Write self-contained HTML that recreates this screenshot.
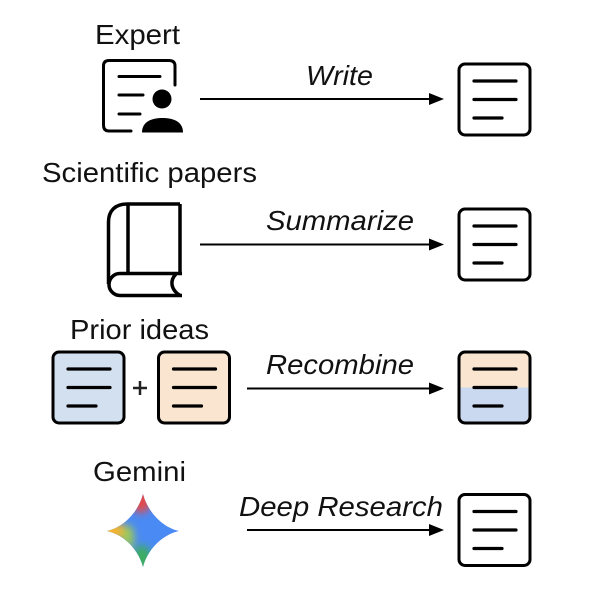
<!DOCTYPE html>
<html><head><meta charset="utf-8"><style>
html,body{margin:0;padding:0;background:#fff;width:608px;height:600px;overflow:hidden}
svg{display:block;filter:blur(0.35px)}
text{font-family:"Liberation Sans",sans-serif;font-size:28px;fill:#111}
.i{font-style:italic}
</style></head><body>
<svg width="608" height="600" viewBox="0 0 608 600" xmlns="http://www.w3.org/2000/svg">
<defs>
<clipPath id="star"><path d="M143 494C147 510 161 527 179 531C161 535 147 551 143 567C139 551 125 535 107 531C125 527 139 510 143 494Z"/></clipPath>
<filter id="b1" x="-50%" y="-50%" width="200%" height="200%"><feGaussianBlur stdDeviation="4"/></filter>
<linearGradient id="half" x1="0" y1="0" x2="0" y2="1"><stop offset="0.5" stop-color="#f9e5d0"/><stop offset="0.5" stop-color="#cbd9f0"/></linearGradient>
<g id="ln" stroke="#000" stroke-width="3.200" fill="none" stroke-linecap="round">
<path d="M15 17H57M15 35.500H57M15 54H43"/>
</g>
</defs>

<text x="95" y="44" textLength="85" lengthAdjust="spacingAndGlyphs">Expert</text>
<text x="42" y="182" textLength="215" lengthAdjust="spacingAndGlyphs">Scientific papers</text>
<text x="70" y="339" textLength="139" lengthAdjust="spacingAndGlyphs">Prior ideas</text>
<text x="93" y="481" textLength="93" lengthAdjust="spacingAndGlyphs">Gemini</text>

<text class="i" x="306" y="85" textLength="67" lengthAdjust="spacingAndGlyphs">Write</text>
<text class="i" x="266" y="230" textLength="148" lengthAdjust="spacingAndGlyphs">Summarize</text>
<text class="i" x="266" y="374" textLength="148" lengthAdjust="spacingAndGlyphs">Recombine</text>
<text class="i" x="239" y="516" textLength="204" lengthAdjust="spacingAndGlyphs">Deep Research</text>

<g stroke="#000" stroke-width="2" fill="none">
<path d="M200 99H432M200 244.500H432M247 388.500H432M247 530H432"/>
</g>
<g fill="#000">
<path d="M429 93L444 99L429 105Z"/>
<path d="M429 238.500L444 244.500L429 250.500Z"/>
<path d="M429 382.500L444 388.500L429 394.500Z"/>
<path d="M429 524L444 530L429 536Z"/>
</g>

<!-- Expert icon -->
<path d="M175 85V66Q175 60.500 169 60.500H109Q103.500 60.500 103.500 66V125Q103.500 131 109 131H131" fill="none" stroke="#000" stroke-width="3" stroke-linecap="round"/>
<path d="M119 76.500H160M119 95H143M119 114H140" fill="none" stroke="#000" stroke-width="3" stroke-linecap="round"/>
<circle cx="162" cy="99" r="9.500" fill="#000"/>
<path d="M142 132.500C142 122 151 118 162.500 118C174 118 183 122 183 132.500Z" fill="#000"/>

<!-- Book icon -->
<path d="M180 204H127C115 204 108.500 211 108.500 222V284" fill="none" stroke="#000" stroke-width="3.500"/>
<path d="M180 204V273" fill="none" stroke="#000" stroke-width="3.500"/>
<path d="M128 204V273" fill="none" stroke="#000" stroke-width="3.500"/>
<path d="M182 273.500H120A11 11 0 0 0 120 295.500H182" fill="none" stroke="#000" stroke-width="3.500"/>
<path d="M176 274C170 280 170 289 180 295.500" fill="none" stroke="#000" stroke-width="3.500"/>

<!-- Right docs -->
<g transform="translate(459,64)"><rect x="0" y="0" width="71" height="71" rx="6" fill="#fff" stroke="#000" stroke-width="3"/><use href="#ln"/></g>
<g transform="translate(459,209)"><rect x="0" y="0" width="71" height="71" rx="6" fill="#fff" stroke="#000" stroke-width="3"/><use href="#ln"/></g>
<g transform="translate(459,352)"><rect x="0" y="0" width="71" height="71" rx="6" fill="url(#half)" stroke="#000" stroke-width="3"/><use href="#ln"/></g>
<g transform="translate(459,494.500)"><rect x="0" y="0" width="71" height="71" rx="6" fill="#fff" stroke="#000" stroke-width="3"/><use href="#ln"/></g>

<!-- Prior ideas docs -->
<g transform="translate(53,352)"><rect x="0" y="0" width="71" height="71" rx="6" fill="#d3e0ef" stroke="#000" stroke-width="3"/><use href="#ln"/></g>
<g transform="translate(158.500,352)"><rect x="0" y="0" width="71" height="71" rx="6" fill="#f9e5d0" stroke="#000" stroke-width="3"/><use href="#ln"/></g>
<path d="M133 388H147M140 381V395" stroke="#222" stroke-width="2.500" fill="none"/>

<!-- Gemini star -->
<g clip-path="url(#star)">
<rect x="100" y="488" width="85" height="85" fill="#4a8af4"/>
<g filter="url(#b1)">
<ellipse cx="141" cy="500" rx="10" ry="13" fill="#e24a4c"/>
<ellipse cx="112" cy="531" rx="14" ry="9" fill="#f4b62e"/>
<ellipse cx="128" cy="537" rx="6" ry="12" fill="#9ccb55"/>
<ellipse cx="142" cy="561" rx="10" ry="16" fill="#3dad62"/>
</g>
</g>
</svg>
</body></html>
